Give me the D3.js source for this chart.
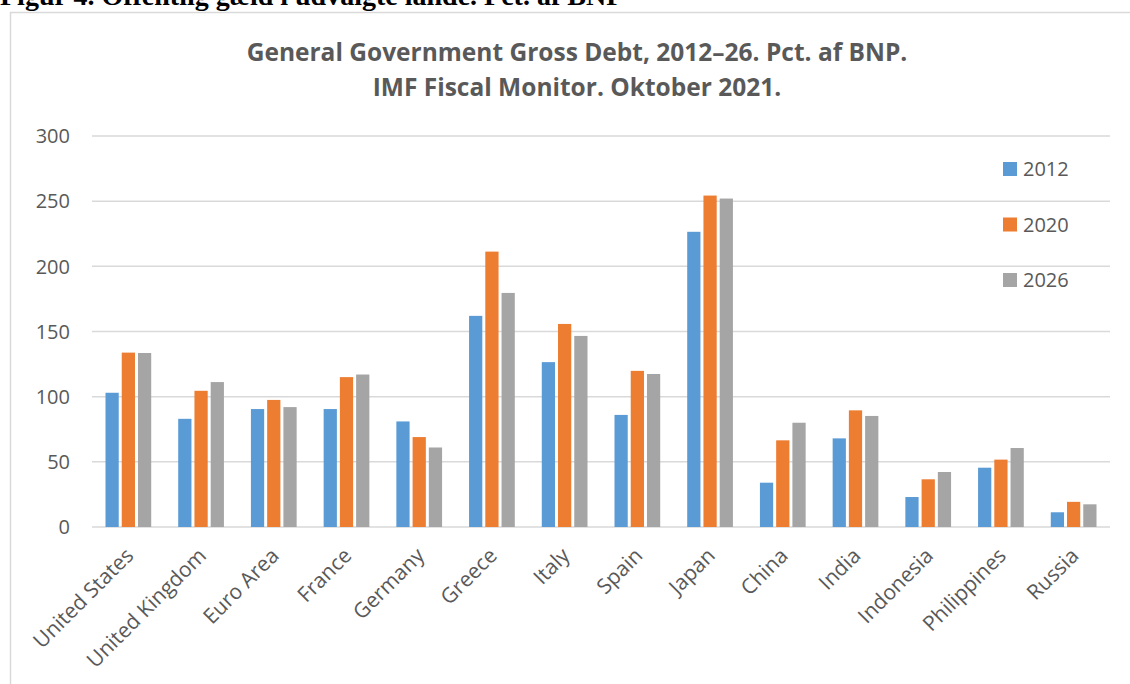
<!DOCTYPE html>
<meta charset="utf-8">
<html>
<head>
    <title>General Government Gross Debt</title>
    <style>
        body {
            margin: 0;
            background: white;
        }

        svg text {
            font-family: "Open Sans", sans-serif;
            fill: #595959;
        }
    </style>
    <script src="https://d3js.org/d3.v7.min.js"></script>
</head>
<body>
    <div id="chart-container"></div>

    <script>
        // data
        const countries = ["United States", "United Kingdom", "Euro Area", "France", "Germany", "Greece",
            "Italy", "Spain", "Japan", "China", "India", "Indonesia", "Philippines", "Russia"];
        const years = ["2012", "2020", "2026"];
        const debt2012 = [103, 83, 90.5, 90.5, 81, 162, 126.5, 86, 226.5, 34, 68, 23, 45.5, 11.3];
        const debt2020 = [133.8, 104.5, 97.5, 115, 69, 211.3, 155.8, 119.8, 254.3, 66.5, 89.5, 36.6, 51.7, 19.3];
        const debt2026 = [133.5, 111.2, 92, 117, 61, 179.6, 146.6, 117.4, 252, 80, 85.2, 42.2, 60.6, 17.4];
        const yTicks = [0, 50, 100, 150, 200, 250, 300];

        const series = [debt2012, debt2020, debt2026];
        const rows = countries.map((c, i) => ({ country: c, values: years.map((y, j) => ({ year: y, value: series[j][i] })) }));

        const W = 1130, H = 684;
        const plotLeft = 92, plotRight = 1110, plotTop = 136, plotBottom = 527;

        const svg = d3.select("#chart-container")
            .append("svg")
            .attr("width", W)
            .attr("height", H);

        // heading above the chart frame, cut off at the top
        svg.append("text")
            .attr("x", 0)
            .attr("y", 5)
            .style("font-family", "'Liberation Serif', serif")
            .style("font-weight", "bold")
            .style("font-size", "28px")
            .style("fill", "black")
            .text("Figur 4. Offentlig gæld i udvalgte lande. Pct. af BNP");

        // chart frame
        svg.append("rect")
            .attr("x", 10.5)
            .attr("y", 12.5)
            .attr("width", 1130)
            .attr("height", 700)
            .attr("fill", "white")
            .attr("stroke", "#d9d9d9")
            .attr("stroke-width", 1.5);

        var x0 = d3.scaleBand()
            .domain(countries)
            .range([plotLeft, plotRight])
            .paddingInner(0.33)
            .paddingOuter(0.165);

        var x1 = d3.scaleBand()
            .domain(years)
            .range([0, x0.bandwidth()]);

        var y = d3.scaleLinear()
            .domain([0, 300])
            .range([plotBottom, plotTop]);

        var color = d3.scaleOrdinal()
            .domain(years)
            .range(["#5B9BD5", "#ED7D31", "#A5A5A5"]);

        // gridlines
        svg.append("g")
            .selectAll("line")
            .data(yTicks)
            .enter().append("line")
            .attr("x1", plotLeft)
            .attr("x2", plotRight)
            .attr("y1", d => y(d))
            .attr("y2", d => y(d))
            .attr("stroke", "#d9d9d9")
            .attr("stroke-width", 1.5);

        // y labels
        svg.append("g")
            .selectAll("text")
            .data(yTicks)
            .enter().append("text")
            .attr("x", 70)
            .attr("y", d => y(d))
            .attr("dy", "0.36em")
            .style("text-anchor", "end")
            .style("font-size", "20px")
            .text(d => d);

        // bars
        svg.append("g")
            .selectAll("g")
            .data(rows)
            .enter().append("g")
            .attr("transform", d => "translate(" + x0(d.country) + ",0)")
            .selectAll("rect")
            .data(d => d.values)
            .enter().append("rect")
            .attr("x", d => x1(d.year) + 1.5)
            .attr("width", x1.bandwidth() - 3)
            .attr("y", d => y(d.value))
            .attr("height", d => y(0) - y(d.value))
            .attr("fill", d => color(d.year));

        // country labels, rotated
        svg.append("g")
            .selectAll("text")
            .data(countries)
            .enter().append("text")
            .attr("transform", d => "translate(" + (x0(d) + x0.bandwidth() / 2 - 4) + "," + 546.5 + ") rotate(-45)")
            .style("text-anchor", "end")
            .style("font-size", "21px")
            .attr("dy", "0.7em")
            .text(d => d);

        // title
        const title = svg.append("text")
            .attr("x", 577)
            .attr("y", 52)
            .style("text-anchor", "middle")
            .style("font-weight", "bold")
            .style("font-size", "24.5px");
        title.append("tspan")
            .attr("x", 577)
            .attr("dy", "0.36em")
            .text("General Government Gross Debt, 2012–26. Pct. af BNP.");
        title.append("tspan")
            .attr("x", 577)
            .attr("dy", 35)
            .text("IMF Fiscal Monitor. Oktober 2021.");

        // legend
        const legend = svg.selectAll(".legend")
            .data(years)
            .enter().append("g")
            .attr("class", "legend")
            .attr("transform", (d, i) => "translate(1003," + (169 + i * 55.5) + ")");

        legend.append("rect")
            .attr("x", 0)
            .attr("y", -7)
            .attr("width", 14)
            .attr("height", 14)
            .attr("fill", d => color(d));

        legend.append("text")
            .attr("x", 20)
            .attr("dy", "0.36em")
            .style("font-size", "20px")
            .text(d => d);
    </script>
</body>
</html>
